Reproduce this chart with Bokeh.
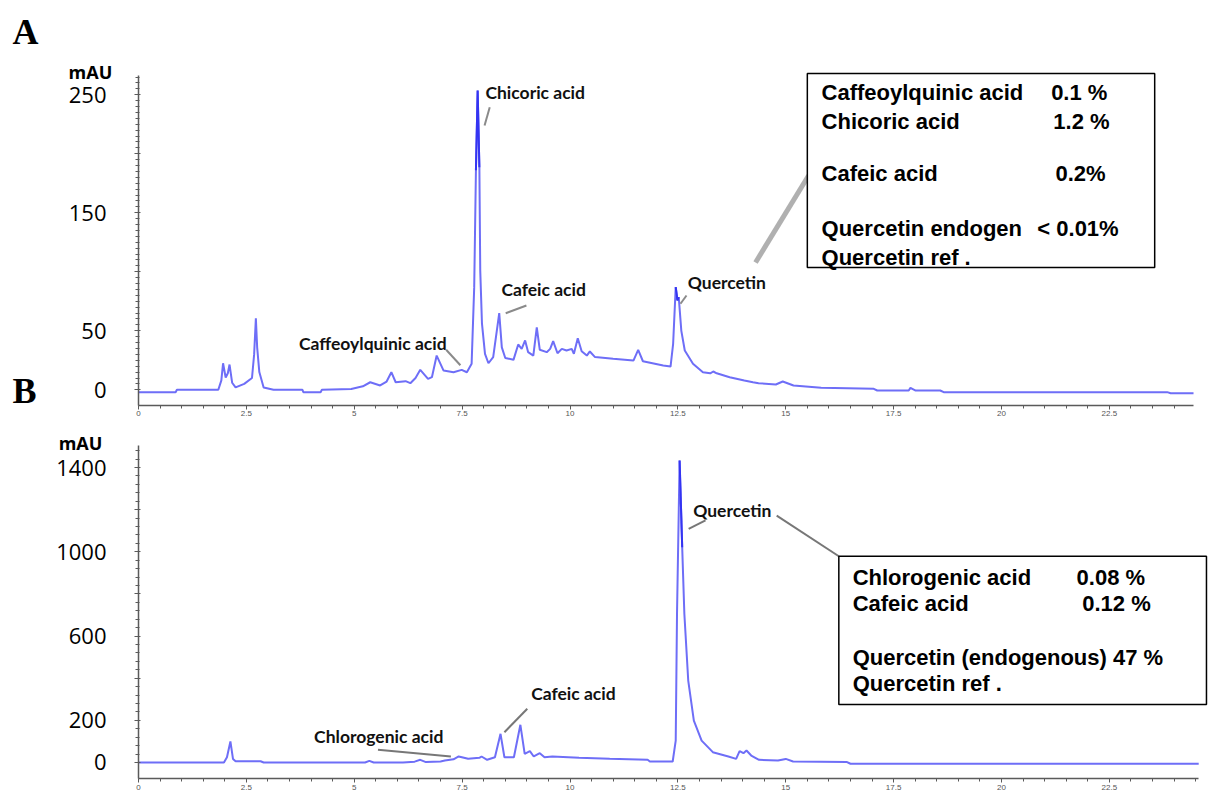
from bokeh.plotting import figure
from bokeh.layouts import column
from bokeh.models import FixedTicker, Range1d
from bokeh.core.properties import value
from bokeh.embed import file_html
from bokeh.resources import INLINE

# ---------------- data: panel A (retention time min, absorbance mAU) ----------------
tA = [0.0, 0.86, 0.89, 1.85, 1.92, 1.96, 2.02, 2.07, 2.11, 2.17, 2.25, 2.45, 2.63, 2.68, 2.72,
      2.75, 2.80, 2.90, 3.13, 3.8, 3.82, 4.22, 4.25, 4.93, 5.2, 5.37, 5.6, 5.75, 5.86, 5.96,
      6.19, 6.3, 6.42, 6.53, 6.71, 6.8, 6.91, 7.07, 7.30, 7.49, 7.61, 7.72, 7.78, 7.82, 7.86,
      7.90, 7.92, 7.96, 8.03, 8.11, 8.22, 8.36, 8.42, 8.5, 8.69, 8.80, 8.88, 8.96, 9.03, 9.15,
      9.23, 9.30, 9.46, 9.54, 9.61, 9.71, 9.81, 9.92, 10.04, 10.09, 10.18, 10.27, 10.39, 10.46,
      10.58, 11.0, 11.47, 11.58, 11.69, 12.16, 12.33, 12.39, 12.45, 12.49, 12.52, 12.58, 12.66,
      12.85, 13.08, 13.25, 13.32, 13.40, 13.7, 14.04, 14.24, 14.37, 14.77, 14.93, 15.18, 15.82,
      17.04, 17.12, 17.85, 17.89, 18.01, 18.58, 18.66, 23.84, 23.92, 24.45]
vA = [-2, -2, 0, 0, 8, 22.5, 10.4, 14, 21.4, 6, 2, 5, 10, 30, 60.7,
      36, 15, 2, 0, 0, -2, -2, 0, 0.6, 3, 6.4, 3.7, 7, 14.9, 6.4,
      7.3, 5.6, 10, 16.9, 9.3, 10.7, 29, 16.3, 14.9, 16.9, 14.9, 22, 87, 186, 253.6,
      188.6, 101, 56, 30.5, 22.5, 27.6, 65, 36, 27, 25.4, 38.4, 34.7, 41.8, 31.9, 29,
      53, 33.9, 31.9, 34.7, 41.2, 31, 34.7, 33.3, 34.7, 30.5, 43.7, 32.7, 29, 32.5,
      27.7, 26.3, 24.8, 33.9, 24.2, 20.6, 19.7, 39, 87, 75.7, 78.6, 50, 33.3,
      22, 14.9, 14, 15.5, 14, 10.7, 7.9, 6.4, 5.6, 4.5, 7, 3.6, 1.7,
      0.8, -0.6, -0.6, 1.7, -0.6, -0.6, -2, -2, -2.9, -2.9]

# ---------------- data: panel B ----------------
tB = [0.0, 1.98, 2.05, 2.13, 2.19, 2.25, 2.36, 2.83, 2.9, 5.25, 5.35, 5.45, 6.13, 6.4, 6.53,
      6.66, 7.0, 7.1, 7.30, 7.42, 7.64, 7.9, 7.95, 8.08, 8.26, 8.39, 8.48, 8.70, 8.85, 8.95,
      9.07, 9.16, 9.30, 9.41, 9.59, 10.21, 10.92, 11.8, 11.85, 12.38, 12.45, 12.48, 12.54,
      12.60, 12.65, 12.74, 12.87, 13.05, 13.31, 13.67, 13.85, 13.93, 14.02, 14.09, 14.2,
      14.38, 14.82, 15.0, 15.17, 16.42, 16.5, 24.57]
vB = [0, 0, 25, 100, 17, 6, 6, 6, 0, 0, 8, 0, 0, 4, 12.7,
      2, 5, 9.5, 15, 28.5, 17.4, 22, 28.5, 12.7, 25, 136, 25, 25, 179, 41,
      54, 28.5, 44, 25, 28.5, 22, 17.4, 12.7, 4.7, 4.7, 104, 706, 1433,
      1022, 706, 389, 199, 104, 49, 28.5, 17, 54, 44, 57, 33,
      12.7, 9.5, 17, 4.7, 2, -6, -6]

x_ticks = [0, 2.5, 5, 7.5, 10, 12.5, 15, 17.5, 20, 22.5]
x_tick_labels = ["0", "2.5", "5", "7.5", "10", "12.5", "15", "17.5", "20", "22.5"]
yA_ticks = [0, 50, 100, 150, 200, 250]
yA_labels = ["0", "50", "", "150", "", "250"]
yB_ticks = [0, 200, 400, 600, 800, 1000, 1200, 1400]
yB_labels = ["0", "200", "", "600", "", "1000", "", "1400"]

# panel letters and unit labels
panel_letters = ["A", "B"]
letter_t = [-2.92, -2.92]
letter_v = [302.8, -1.4]

# peak labels
pkA_names = ["Chicoric acid", "Cafeic acid", "Caffeoylquinic acid", "Quercetin"]
pkA_t = [8.04, 8.41, 3.72, 12.73]
pkA_v = [251.7, 85.0, 39.5, 91.2]
ldA_t0 = [8.14, 8.99, 7.13, 12.70]
ldA_v0 = [239.5, 71.4, 33.9, 79.9]
ldA_t1 = [8.02, 8.51, 7.46, 12.56]
ldA_v1 = [223.9, 64.9, 20.8, 72.9]

pkB_names = ["Quercetin", "Cafeic acid", "Chlorogenic acid"]
pkB_t = [12.855, 9.10, 4.07]
pkB_v = [1196, 326, 123.4]
ldB_t0 = [12.75, 14.79, 9.01, 5.55]
ldB_v0 = [1109, 1172, 255, 60.3]
ldB_t1 = [13.14, 16.23, 8.48, 7.24]
ldB_v1 = [1149, 979, 143.8, 28.5]

# content boxes
boxA_names = ["Caffeoylquinic acid", "Chicoric acid", "Cafeic acid", "Quercetin endogen", "Quercetin ref ."]
boxA_vals = ["0.1 %", "1.2 %", "0.2%", "< 0.01%", ""]
boxA_val_t = [21.15, 21.2, 21.25, 20.83, 21.0]
boxA_rows = [252, 227.6, 183, 136.7, 112.4]
boxB_names = ["Chlorogenic acid", "Cafeic acid", "Quercetin (endogenous)  47 %", "Quercetin ref ."]
boxB_vals = ["0.08  %", "0.12 %", "", ""]
boxB_val_t = [21.74, 21.87, 21.0, 21.0]
boxB_rows = [876.6, 753, 499.8, 373.5]

TRACE = "#6e6ef7"
TRACE_TOP = "#3434f2"
LEADER = "#8a8a8a"
TICKFONT = "Open Sans"
PEAKFONT = "Lato"
BOXFONT = "Liberation Sans"
W = 1208
X_LO, X_HI = -3.198, 24.797


def top_runs(ts, vs, lo, hi, thr):
    """Runs of consecutive samples above thr inside [lo, hi] (peak apex, drawn darker)."""
    xs, ys, cx, cy = [], [], [], []
    for t, v in zip(ts, vs):
        if lo <= t <= hi and v >= thr:
            cx.append(t)
            cy.append(v)
        elif cx:
            xs.append(cx)
            ys.append(cy)
            cx, cy = [], []
    if cx:
        xs.append(cx)
        ys.append(cy)
    return xs, ys


def style_axes(p, yt, yl, y_minor, x_minor, x_at, x_bounds, y_bounds):
    p.xaxis.fixed_location = x_at
    p.xaxis.bounds = x_bounds
    p.yaxis.fixed_location = 0
    p.yaxis.bounds = y_bounds
    p.xaxis.ticker = FixedTicker(ticks=x_ticks, minor_ticks=x_minor)
    p.xaxis.major_label_overrides = {t: s for t, s in zip(x_ticks, x_tick_labels)}
    p.xaxis.major_label_text_font_size = "8px"
    p.xaxis.major_label_text_color = "#555555"
    p.xaxis.major_label_standoff = 2
    p.xaxis.major_tick_in = 0
    p.xaxis.major_tick_out = 4
    p.xaxis.minor_tick_in = 0
    p.xaxis.minor_tick_out = 3
    p.yaxis.ticker = FixedTicker(ticks=yt, minor_ticks=y_minor)
    p.yaxis.major_label_overrides = {t: s for t, s in zip(yt, yl)}
    p.yaxis.major_label_text_font = TICKFONT
    p.yaxis.major_label_text_font_size = "22px"
    p.yaxis.major_label_text_color = "black"
    p.yaxis.major_label_standoff = 28
    p.yaxis.major_tick_in = 2
    p.yaxis.major_tick_out = 4
    p.yaxis.minor_tick_in = 1
    p.yaxis.minor_tick_out = 3
    for ax in (p.xaxis, p.yaxis):
        ax.axis_line_color = "#5a5a5a"
        ax.axis_line_width = 1.5
        ax.major_tick_line_color = "#5a5a5a"
        ax.minor_tick_line_color = "#5a5a5a"
    p.grid.visible = False
    p.outline_line_color = None


def make_fig(h, y_lo, y_hi):
    return figure(width=W, height=h, output_backend="svg", toolbar_location=None,
                  x_range=Range1d(X_LO, X_HI), y_range=Range1d(y_lo, y_hi),
                  min_border=0, min_border_left=0, min_border_right=0,
                  min_border_top=0, min_border_bottom=0)


# ---------------- panel A ----------------
pA = make_fig(425, -30.25, 329.9)
style_axes(pA, yA_ticks, yA_labels, [i * 5 for i in range(0, 54)],
           [i * 0.5 for i in range(0, 49)], -13.3, (0, 24.45), (-13.3, 266.4))

pA.line(tA, vA, line_color=TRACE, line_width=2)
ax1, ay1 = top_runs(tA, vA, 7.5, 8.0, 180)
ax2, ay2 = top_runs(tA, vA, 12.3, 12.6, 75)
pA.multi_line(ax1 + ax2, ay1 + ay2, line_color=TRACE_TOP, line_width=2)
pA.segment(x0=ldA_t0, y0=ldA_v0, x1=ldA_t1, y1=ldA_v1, line_color=LEADER, line_width=2)
pA.segment(x0=[14.30], y0=[107.9], x1=[15.53], y1=[181.6], line_color="#b0b0b0", line_width=5)
pA.text(x=pkA_t, y=pkA_v, text=pkA_names, text_font=value(PEAKFONT), text_font_style="bold",
        text_font_size="17.5px", text_baseline="middle", text_align="left", text_color="#111111")
pA.quad(left=[15.50], right=[23.55], bottom=[103.6], top=[268.0], fill_color="white",
        line_color="black", line_width=1.5)
pA.text(x=[15.83] * len(boxA_names), y=boxA_rows, text=boxA_names, text_font=value(BOXFONT),
        text_font_style="bold", text_font_size="22px", text_baseline="middle", text_align="left",
        text_color="black")
pA.text(x=boxA_val_t, y=boxA_rows, text=boxA_vals, text_font=value(BOXFONT),
        text_font_style="bold", text_font_size="22px", text_baseline="middle", text_align="left",
        text_color="black")
pA.text(x=letter_t, y=letter_v, text=panel_letters, text_font=value("Liberation Serif"),
        text_font_style="bold", text_font_size="36px", text_baseline="middle", text_align="left",
        text_color="black")
pA.text(x=[-1.62], y=[269.7], text=["mAU"], text_font=value(TICKFONT), text_font_style="bold",
        text_font_size="18px", text_baseline="middle", text_align="left", text_color="black")

# ---------------- panel B ----------------
pB = make_fig(371, -161.4, 1599.4)
style_axes(pB, yB_ticks, yB_labels, [i * 40 for i in range(0, 38)],
           [i * 0.5 for i in range(0, 50)], -76, (0, 24.57), (-76, 1504))

pB.line(tB, vB, line_color=TRACE, line_width=2)
bx1, by1 = top_runs(tB, vB, 12.3, 12.7, 1000)
pB.multi_line(bx1, by1, line_color=TRACE_TOP, line_width=2)
pB.segment(x0=ldB_t0, y0=ldB_v0, x1=ldB_t1, y1=ldB_v1, line_color="#777777", line_width=2)
pB.text(x=pkB_t, y=pkB_v, text=pkB_names, text_font=value(PEAKFONT), text_font_style="bold",
        text_font_size="17.5px", text_baseline="middle", text_align="left", text_color="#111111")
pB.quad(left=[16.23], right=[24.75], bottom=[275], top=[979], fill_color="white",
        line_color="black", line_width=1.5)
pB.text(x=[16.55] * len(boxB_names), y=boxB_rows, text=boxB_names, text_font=value(BOXFONT),
        text_font_style="bold", text_font_size="22px", text_baseline="middle", text_align="left",
        text_color="black")
pB.text(x=boxB_val_t, y=boxB_rows, text=boxB_vals, text_font=value(BOXFONT),
        text_font_style="bold", text_font_size="22px", text_baseline="middle", text_align="left",
        text_color="black")
pB.text(x=[-1.85], y=[1518.7], text=["mAU"], text_font=value(TICKFONT), text_font_style="bold",
        text_font_size="18px", text_baseline="middle", text_align="left", text_color="black")

layout = column(pA, pB, spacing=0)
open("out.html", "w").write(file_html(layout, INLINE))
